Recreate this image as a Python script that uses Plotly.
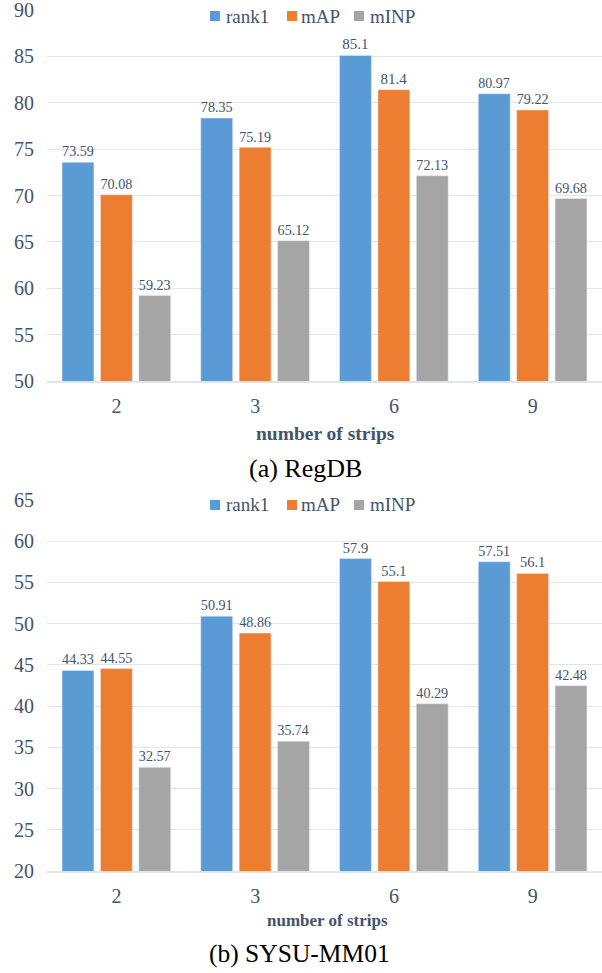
import plotly.graph_objects as go

categories = ["2", "3", "6", "9"]
regdb_rank1 = [73.59, 78.35, 85.1, 80.97]
regdb_map = [70.08, 75.19, 81.4, 79.22]
regdb_minp = [59.23, 65.12, 72.13, 69.68]
sysu_rank1 = [44.33, 50.91, 57.9, 57.51]
sysu_map = [44.55, 48.86, 55.1, 56.1]
sysu_minp = [32.57, 35.74, 40.29, 42.48]
series_names = ["rank1", "mAP", "mINP"]
colors = ["#5b9bd5", "#ed7d31", "#a5a5a5"]

W, H = 602, 973
L = 47
PW = W - L
FONT = "Liberation Serif"
TXT = "#44546a"

def fx(xr):
    return (xr - L) / PW

def fy(yr):
    return 1 - yr / H

# y ranges (slightly padded at top so the top gridline is drawn)
top_range = [50, 90.1]
bot_range = [20, 65.1]
top_dom_px = 381 - (381 - 10) * (top_range[1] - 50) / 40
bot_dom_px = 871 - (871 - 500) * (bot_range[1] - 20) / 45

fig = go.Figure()
top = [regdb_rank1, regdb_map, regdb_minp]
bot = [sysu_rank1, sysu_map, sysu_minp]
for i, name in enumerate(series_names):
    fig.add_trace(go.Bar(
        x=categories, y=top[i], name=name, marker_color=colors[i],
        text=[str(v) for v in top[i]], textposition="outside",
        textfont=dict(family=FONT, size=15, color=TXT), cliponaxis=False,
        xaxis="x", yaxis="y", showlegend=False))
for i, name in enumerate(series_names):
    fig.add_trace(go.Bar(
        x=categories, y=bot[i], name=name, marker_color=colors[i],
        text=[str(v) for v in bot[i]], textposition="outside",
        textfont=dict(family=FONT, size=14.5, color=TXT), cliponaxis=False,
        xaxis="x2", yaxis="y2", showlegend=False))

ycommon = dict(showgrid=True, gridcolor="#e3e3ea", gridwidth=1.2, zeroline=False, automargin=False,
               tickfont=dict(family=FONT, size=20, color=TXT), showline=False, ticklabelstandoff=12,
               ticklabeloverflow="allow")
xcommon = dict(domain=[0, 1], showgrid=False, showline=True, linecolor="#e3e3ea", automargin=False,
               linewidth=1.5, tickfont=dict(family=FONT, size=20, color=TXT), ticklabelstandoff=6,
               ticklabeloverflow="allow")

shapes = []
annotations = []
# legends (drawn as small squares + labels)
leg_box_x = [210, 287, 354]
leg_txt_x = [224, 299, 368]
for ycen in (16, 505):
    for i, name in enumerate(series_names):
        shapes.append(dict(type="rect", xref="paper", yref="paper",
                           x0=fx(leg_box_x[i]), x1=fx(leg_box_x[i] + 10),
                           y0=fy(ycen + 5), y1=fy(ycen - 5),
                           fillcolor=colors[i], line=dict(width=0)))
        annotations.append(dict(text=name, x=fx(leg_txt_x[i]), y=fy(ycen), xref="paper", yref="paper",
                                xanchor="left", yanchor="middle", showarrow=False,
                                font=dict(family=FONT, size=19, color=TXT)))

annotations += [
    dict(text="<b>number of strips</b>", x=fx(325), y=fy(433), xref="paper", yref="paper",
         showarrow=False, font=dict(family=FONT, size=19.5, color=TXT), yanchor="middle"),
    dict(text="<b>number of strips</b>", x=fx(327), y=fy(920), xref="paper", yref="paper",
         showarrow=False, font=dict(family=FONT, size=17, color=TXT), yanchor="middle"),
    dict(text="(a) RegDB", x=fx(305), y=fy(468), xref="paper", yref="paper",
         showarrow=False, font=dict(family=FONT, size=26, color="black"), yanchor="middle"),
    dict(text="(b) SYSU-MM01", x=fx(299), y=fy(953), xref="paper", yref="paper",
         showarrow=False, font=dict(family=FONT, size=25.5, color="black"), yanchor="middle"),
]

fig.update_layout(
    width=W, height=H, margin=dict(l=L, r=0, t=0, b=0, autoexpand=False),
    plot_bgcolor="white", paper_bgcolor="white",
    barmode="group", bargap=0.17, bargroupgap=0.17,
    font=dict(family=FONT, color=TXT),
    showlegend=False,
    xaxis=dict(anchor="y", **xcommon),
    yaxis=dict(domain=[fy(381), fy(top_dom_px)], anchor="x", range=top_range, tick0=50, dtick=5,
               **ycommon),
    xaxis2=dict(anchor="y2", **xcommon),
    yaxis2=dict(domain=[fy(871), fy(bot_dom_px)], anchor="x2", range=bot_range, tick0=20, dtick=5,
                **ycommon),
    shapes=shapes,
    annotations=annotations,
)

fig.write_html("out.html", config={"displayModeBar": False},
               post_script="document.body.style.margin='0';document.body.style.overflow='hidden';")
